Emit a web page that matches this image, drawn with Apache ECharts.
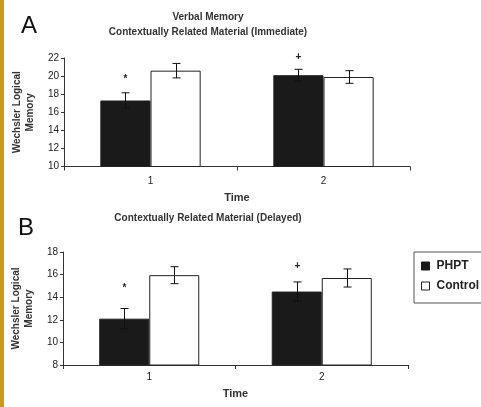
<!DOCTYPE html>
<html>
<head>
<meta charset="utf-8">
<script src="https://cdn.jsdelivr.net/npm/echarts@6/dist/echarts.min.js"></script>
<style>
  html, body { margin: 0; padding: 0; background: #fff; }
  #chart { width: 481px; height: 407px; }
</style>
</head>
<body>
<div id="chart"></div>
<script>
// Time points (x categories)
const timePoints = ['1', '2'];

// Panel A: Contextually related material, immediate recall
const phptImmediate = [17.3, 20.1];
const phptImmediateErr = [0.85, 0.65];
const controlImmediate = [20.6, 19.9];
const controlImmediateErr = [0.8, 0.7];

// Panel B: Contextually related material, delayed recall
const phptDelayed = [12.1, 14.5];
const phptDelayedErr = [0.9, 0.85];
const controlDelayed = [15.95, 15.7];
const controlDelayedErr = [0.75, 0.8];

// Significance markers above the PHPT bars
const phptMarks = ['*', '+'];

// Y axis ranges / tick steps
const yRangeA = { min: 10, max: 22, interval: 2 };
const yRangeB = { min: 8, max: 18, interval: 2 };

const FONT = '"Liberation Sans", Arial, Helvetica, sans-serif';
const CATEGORY_GAP = 0.42;

function errorSeries(name, xIdx, means, errs, side, marks, markGap) {
  return {
    type: 'custom',
    name: name + ' SE',
    xAxisIndex: xIdx,
    yAxisIndex: xIdx,
    z: 5,
    silent: true,
    data: means.map((m, i) => [i, m, errs[i]]),
    renderItem: function (params, api) {
      const i = api.value(0), m = api.value(1), e = api.value(2);
      const band = api.size([1, 0])[0];
      const bw = band * (1 - CATEGORY_GAP) / 2;
      const c = api.coord([i, m]);
      const x = Math.round(c[0] + side * bw / 2) + 0.5;
      const hi = api.coord([i, m + e])[1];
      const lo = api.coord([i, m - e])[1];
      const cap = 4;
      const st = { stroke: '#111', lineWidth: 1 };
      const children = [
        { type: 'line', shape: { x1: x, y1: hi, x2: x, y2: lo }, style: st },
        { type: 'line', shape: { x1: x - cap, y1: hi, x2: x + cap, y2: hi }, style: st },
        { type: 'line', shape: { x1: x - cap, y1: lo, x2: x + cap, y2: lo }, style: st }
      ];
      if (marks && marks[i]) {
        children.push({
          type: 'text',
          style: {
            x: x, y: hi - markGap[i], text: marks[i],
            textAlign: 'center', textVerticalAlign: 'middle',
            font: 'bold 10px ' + FONT, fill: '#222'
          }
        });
      }
      return { type: 'group', children: children };
    }
  };
}

const axisLineStyle = { color: '#333', width: 1 };

function xAxisDef(gridIndex, labelMargin, nameGap) {
  return {
    type: 'category',
    gridIndex: gridIndex,
    data: timePoints,
    name: 'Time',
    nameLocation: 'middle',
    nameGap: nameGap,
    nameTextStyle: { fontFamily: FONT, fontWeight: 'bold', fontSize: 11, color: '#333' },
    axisLine: { show: true, lineStyle: axisLineStyle },
    axisTick: { show: true, length: 4, inside: false, lineStyle: axisLineStyle },
    axisLabel: { fontFamily: FONT, fontSize: 10, color: '#222', margin: labelMargin },
    splitLine: { show: false }
  };
}

function yAxisDef(gridIndex, range) {
  return {
    type: 'value',
    gridIndex: gridIndex,
    min: range.min, max: range.max, interval: range.interval,
    name: 'Wechsler Logical\nMemory',
    nameLocation: 'middle',
    nameRotate: 90,
    nameGap: 26,
    nameTextStyle: { fontFamily: FONT, fontWeight: 'bold', fontSize: 10, lineHeight: 13, color: '#333' },
    axisLine: { show: true, lineStyle: axisLineStyle },
    axisTick: { show: true, length: 3, lineStyle: axisLineStyle },
    axisLabel: { fontFamily: FONT, fontSize: 10, color: '#222', margin: 5 },
    splitLine: { show: false }
  };
}

function barSeries(name, idx, values, color) {
  return {
    type: 'bar',
    name: name,
    xAxisIndex: idx,
    yAxisIndex: idx,
    data: values,
    barGap: '0%',
    barCategoryGap: (CATEGORY_GAP * 100) + '%',
    itemStyle: { color: color, borderColor: '#222', borderWidth: 1 },
    z: 2
  };
}

const chart = echarts.init(document.getElementById('chart'), null, { renderer: 'canvas' });

chart.setOption({
  backgroundColor: '#ffffff',
  animation: false,
  textStyle: { fontFamily: FONT },
  grid: [
    { left: 64, right: 71, top: 58, height: 108.5, containLabel: false },
    { left: 63, right: 73, top: 252, height: 113, containLabel: false }
  ],
  xAxis: [xAxisDef(0, 10, 26), xAxisDef(1, 7, 23)],
  yAxis: [yAxisDef(0, yRangeA), yAxisDef(1, yRangeB)],
  legend: {
    data: [
      { name: 'PHPT', icon: 'rect', itemStyle: { color: '#1a1a1a', borderColor: '#1a1a1a', borderWidth: 1 } },
      { name: 'Control', icon: 'rect', itemStyle: { color: '#ffffff', borderColor: '#222', borderWidth: 1 } }
    ],
    orient: 'vertical',
    left: 414,
    top: 252,
    width: 80,
    padding: [8, 20, 11, 7],
    itemWidth: 8,
    itemHeight: 8,
    itemGap: 8,
    borderColor: '#555',
    borderWidth: 1,
    textStyle: { fontFamily: FONT, fontWeight: 'bold', fontSize: 12, color: '#222', padding: [0, 0, 0, 2] },
    selectedMode: false
  },
  graphic: [
    { type: 'rect', left: 0, top: 0, shape: { width: 4, height: 407 }, style: { fill: '#c99a22' }, silent: true },
    { type: 'text', left: 21, top: 14, style: { text: 'A', font: '24px ' + FONT, fill: '#111' } },
    { type: 'text', left: 18, top: 216, style: { text: 'B', font: '24px ' + FONT, fill: '#111' } },
    {
      type: 'text', x: 208, y: 25,
      style: {
        text: 'Verbal Memory\nContextually Related Material (Immediate)',
        textAlign: 'center', textVerticalAlign: 'middle',
        font: 'bold 10px ' + FONT, lineHeight: 15, fill: '#333'
      }
    },
    {
      type: 'text', x: 208, y: 218,
      style: {
        text: 'Contextually Related Material (Delayed)',
        textAlign: 'center', textVerticalAlign: 'middle',
        font: 'bold 10px ' + FONT, fill: '#333'
      }
    }
  ],
  series: [
    barSeries('PHPT', 0, phptImmediate, '#1a1a1a'),
    barSeries('Control', 0, controlImmediate, '#ffffff'),
    barSeries('PHPT', 1, phptDelayed, '#1a1a1a'),
    barSeries('Control', 1, controlDelayed, '#ffffff'),
    errorSeries('PHPT', 0, phptImmediate, phptImmediateErr, -1, phptMarks, [14, 12]),
    errorSeries('Control', 0, controlImmediate, controlImmediateErr, 1, null, null),
    errorSeries('PHPT', 1, phptDelayed, phptDelayedErr, -1, phptMarks, [20, 16]),
    errorSeries('Control', 1, controlDelayed, controlDelayedErr, 1, null, null)
  ]
});
</script>
</body>
</html>
